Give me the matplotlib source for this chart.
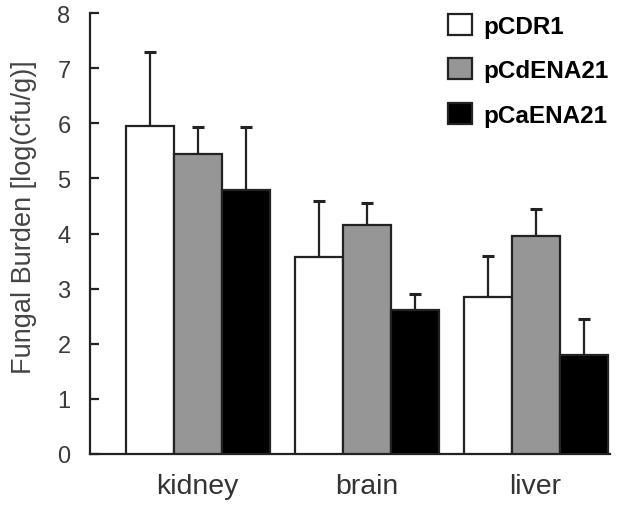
import matplotlib
matplotlib.use("Agg")
import matplotlib.pyplot as plt
import numpy as np

plt.rcParams['font.family'] = ['Liberation Sans', 'DejaVu Sans']

organs = ["kidney", "brain", "liver"]
series = ["pCDR1", "pCdENA21", "pCaENA21"]
means = {
    "pCDR1":    [5.95, 3.57, 2.84],
    "pCdENA21": [5.45, 4.16, 3.95],
    "pCaENA21": [4.79, 2.62, 1.80],
}
errors = {
    "pCDR1":    [1.34, 1.02, 0.75],
    "pCdENA21": [0.49, 0.40, 0.49],
    "pCaENA21": [1.15, 0.28, 0.65],
}
colors = {"pCDR1": "#ffffff", "pCdENA21": "#969696", "pCaENA21": "#000000"}
yticks = [0, 1, 2, 3, 4, 5, 6, 7, 8]

W, H = 619, 506
fig = plt.figure(figsize=(W / 100, H / 100), dpi=100)
ax = fig.add_axes([90 / W, (H - 455) / H, 520 / W, 441 / H])

x = np.arange(len(organs))
width = 0.284
edge = "#222222"
for i, s in enumerate(series):
    pos = x + (i - 1) * width
    err = np.array(errors[s])
    ax.bar(pos, means[s], width, color=colors[s], edgecolor=edge,
           linewidth=1.6, label=s, zorder=3,
           yerr=[np.zeros_like(err), err],
           error_kw=dict(ecolor=edge, elinewidth=1.6, capsize=4.5,
                         capthick=2.2, zorder=2))

ax.set_xlim(-0.636, 2.44)
ax.set_ylim(0, 8)
ax.set_yticks(yticks)
ax.set_xticks(x)
ax.set_xticklabels(organs)

for side in ("top", "right"):
    ax.spines[side].set_visible(False)
for side in ("left", "bottom"):
    ax.spines[side].set_linewidth(1.6)
    ax.spines[side].set_color(edge)

ax.tick_params(axis="y", direction="in", length=6.5, width=1.6, color=edge,
               labelsize=17, labelcolor="#3a3a3a", pad=14)
ax.tick_params(axis="x", length=0, labelsize=20.5, labelcolor="#333333", pad=14)

ax.set_ylabel("Fungal Burden [log(cfu/g)]", fontsize=19.5, color="#444444",
              va="center")
ax.yaxis.set_label_coords(-0.127, 0.54)

leg = ax.legend(loc="upper left", bbox_to_anchor=(448 / W, 1 - 15 / H),
                bbox_transform=fig.transFigure, frameon=False,
                prop=dict(weight="bold", size=17.5), handlelength=1.0,
                handleheight=0.95, handletextpad=0.45, labelspacing=0.85,
                borderpad=0, borderaxespad=0)
for h in leg.legend_handles:
    h.set_edgecolor(edge)
    h.set_linewidth(1.6)

fig.savefig("out.png", dpi=100)
